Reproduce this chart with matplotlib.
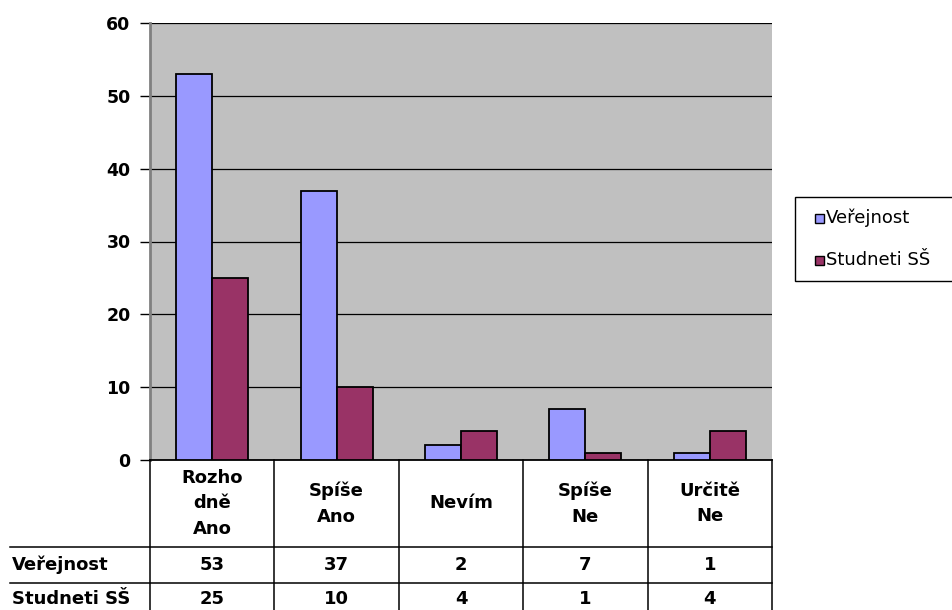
import matplotlib
matplotlib.use('Agg')
import matplotlib.pyplot as plt
from matplotlib.patches import Rectangle
import numpy as np

kategorie = ['Rozho\ndně\nAno', 'Spíše\nAno', 'Nevím', 'Spíše\nNe', 'Určitě\nNe']
verejnost = [53, 37, 2, 7, 1]
studenti = [25, 10, 4, 1, 4]
serie = ['Veřejnost', 'Studneti SŠ']
barvy = ['#9999FF', '#993366']

plt.rcParams['font.family'] = ['DejaVu Sans']

W, H = 952, 610
fig = plt.figure(figsize=(W / 100, H / 100), dpi=100)

# plot area in pixels
x0, x1 = 150, 772
y_top, y_bot = 23, 460


def fx(px):
    return px / W


def fy(py):
    return 1 - py / H


ax = fig.add_axes([fx(x0), fy(y_bot), fx(x1) - fx(x0), fy(y_top) - fy(y_bot)])
ax.set_facecolor('#C0C0C0')

x = np.arange(len(kategorie))
sirka = 0.29
ax.bar(x - sirka / 2, verejnost, sirka, color=barvy[0], edgecolor='black', linewidth=1.3, zorder=3)
ax.bar(x + sirka / 2, studenti, sirka, color=barvy[1], edgecolor='black', linewidth=1.3, zorder=3)

ax.set_xlim(-0.5, len(kategorie) - 0.5)
ax.set_ylim(0, 60)
ax.set_yticks(range(0, 61, 10))
ax.yaxis.grid(True, color='black', linewidth=0.9, zorder=1)
ax.set_xticks([])
for lbl in ax.get_yticklabels():
    lbl.set_fontweight('bold')
    lbl.set_fontsize(12.5)
ax.tick_params(axis='y', length=7, width=1, direction='out', pad=7, color='black')
for s in ['top', 'right']:
    ax.spines[s].set_visible(False)
ax.spines['left'].set_color('#808080')
ax.spines['left'].set_linewidth(2)
ax.spines['bottom'].set_color('black')
ax.spines['bottom'].set_linewidth(1.3)

# data table below the axes
radky = [547, 583, 620]
lin = dict(color='black', linewidth=1.1, transform=fig.transFigure)
sloupec = (x1 - x0) / len(kategorie)
hranice = [x0 + i * sloupec for i in range(len(kategorie) + 1)]
for hx in hranice:
    fig.add_artist(plt.Line2D([fx(hx), fx(hx)], [fy(y_bot), 0], **lin))
for ry in radky[:2]:
    fig.add_artist(plt.Line2D([fx(10), fx(x1)], [fy(ry), fy(ry)], **lin))

vel = 13
for i, k in enumerate(kategorie):
    cx = fx(hranice[i] + sloupec / 2)
    fig.text(cx, fy((y_bot + radky[0]) / 2), k, ha='center', va='center',
             fontsize=vel, fontweight='bold', linespacing=1.55)
    fig.text(cx, fy((radky[0] + radky[1]) / 2), str(verejnost[i]), ha='center', va='center',
             fontsize=vel, fontweight='bold')
    fig.text(cx, fy((radky[1] + radky[2]) / 2 - 2), str(studenti[i]), ha='center', va='center',
             fontsize=vel, fontweight='bold')

for j, (nazev, barva) in enumerate(zip(serie, barvy)):
    ymid = fy((radky[j] + radky[j + 1]) / 2 - 2 * j)
    fig.text(fx(12), ymid, nazev, ha='left', va='center', fontsize=vel, fontweight='bold')

# legend
fig.add_artist(Rectangle((fx(795), fy(281)), fx(W + 5) - fx(795), fy(197) - fy(281),
                         transform=fig.transFigure, facecolor='white', edgecolor='black', linewidth=1))
for j, (nazev, barva) in enumerate(zip(serie, barvy)):
    ly = 218 + j * 42
    fig.add_artist(Rectangle((fx(815), fy(ly + 5)), fx(9), fy(0) - fy(9),
                             transform=fig.transFigure, facecolor=barva, edgecolor='black', linewidth=1))
    fig.text(fx(826), fy(ly), nazev, ha='left', va='center', fontsize=13)

fig.savefig('out.png', dpi=100)
